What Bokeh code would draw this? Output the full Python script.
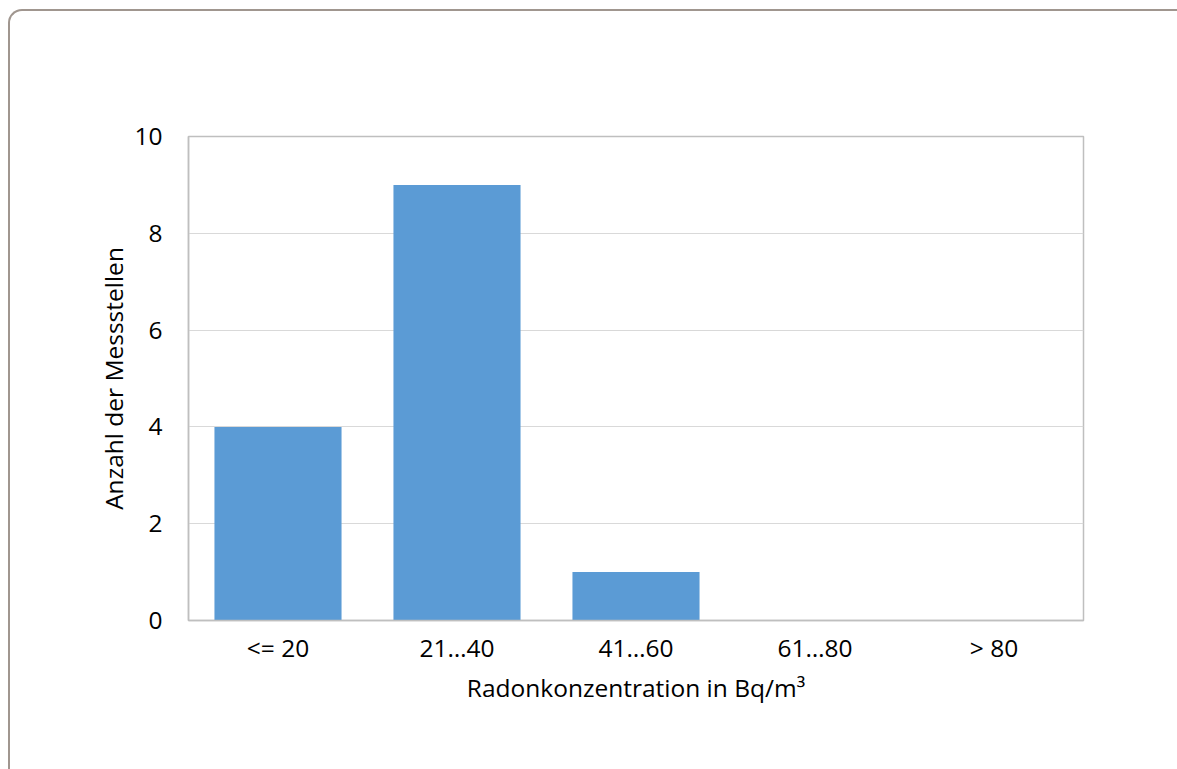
from bokeh.plotting import figure
from bokeh.models import FactorRange, Range1d, ColumnDataSource, InlineStyleSheet, FixedTicker
from bokeh.embed import file_html
from bokeh.resources import INLINE

categories = ["<= 20", "21…40", "41…60", "61…80", "> 80"]
counts = [4, 9, 1, 0, 0]
y_ticks = [0, 2, 4, 6, 8, 10]

FONT = "Open Sans"
TXT = "#000000"
FS = "24.5px"

src = ColumnDataSource(data=dict(cat=categories, n=counts))

p = figure(
    width=1177, height=769,
    x_range=FactorRange(*categories, range_padding=0),
    y_range=Range1d(0, 10),
    output_backend="svg", toolbar_location=None,
    min_border_left=188, min_border_top=136, min_border_right=94, min_border_bottom=149,
)

p.vbar(x="cat", top="n", width=0.71, source=src, fill_color="#5B9BD5", line_color=None)

p.outline_line_color = "#BFBFBF"
p.outline_line_width = 1.5
p.background_fill_color = "white"
p.border_fill_color = "white"

p.xgrid.grid_line_color = None
p.ygrid.grid_line_color = "#D9D9D9"
p.ygrid.grid_line_width = 1.2
p.yaxis.ticker = FixedTicker(ticks=y_ticks)

for ax in (p.xaxis[0], p.yaxis[0]):
    ax.axis_line_color = "#BFBFBF"
    ax.axis_line_width = 1.5
    ax.major_tick_line_color = None
    ax.minor_tick_line_color = None
    ax.major_label_text_font = FONT
    ax.major_label_text_font_size = FS
    ax.major_label_text_color = TXT
    ax.axis_label_text_font = FONT
    ax.axis_label_text_font_size = FS
    ax.axis_label_text_font_style = "normal"
    ax.axis_label_text_color = TXT

p.yaxis.major_label_standoff = 20
p.xaxis.major_label_standoff = 4
p.yaxis.axis_label = "Anzahl der Messstellen"
p.xaxis.axis_label = "Radonkonzentration in Bq/m³"
p.yaxis.axis_label_standoff = 1
p.xaxis.axis_label_standoff = 4

css = """
:host { position: relative; }
:host::after {
  content: ""; position: absolute; left: 8px; top: 9px;
  width: 1169px; height: 760px; box-sizing: border-box;
  border-top: 2px solid #A0968F; border-left: 2px solid #A0968F;
  border-top-left-radius: 14px; pointer-events: none;
}
"""
p.stylesheets = [InlineStyleSheet(css=css)]

open("out.html", "w").write(file_html(p, INLINE))
